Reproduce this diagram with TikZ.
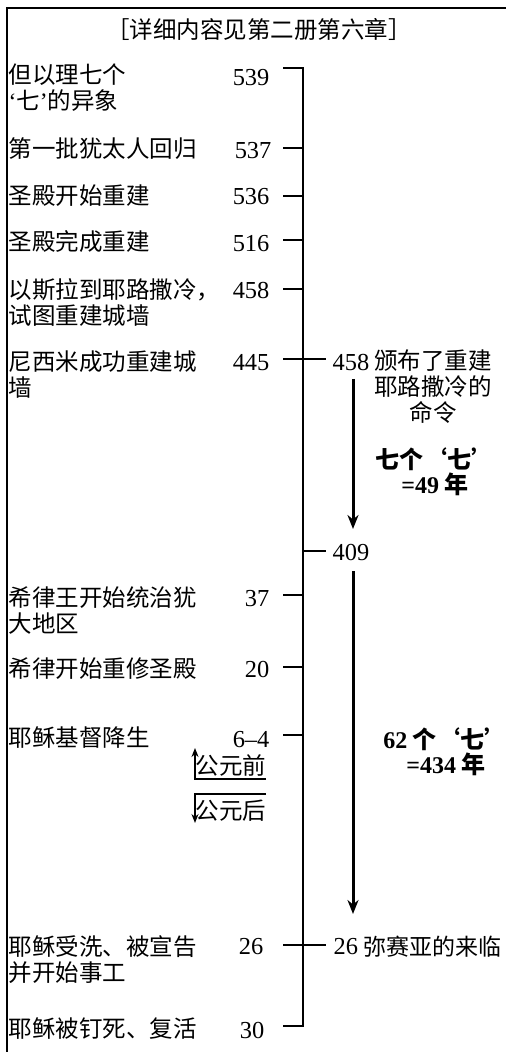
\documentclass[tikz,border=0pt]{standalone}
\usepackage{fontspec}
\setmainfont{Liberation Serif}
\newfontfamily\cjk{Noto Sans CJK SC}
\usetikzlibrary{arrows.meta}

\begin{document}
\begin{tikzpicture}[x=0.5pt,y=-0.5pt,line width=0.65pt,
    event/.style={font=\cjk\fontsize{11.75}{13}\selectfont,anchor=west,align=left,inner sep=0pt},
    year/.style={font=\fontsize{12.2}{13}\selectfont,anchor=east,inner sep=0pt},
    note/.style={font=\cjk\fontsize{11.75}{13}\selectfont,align=center,inner sep=0pt},
    span/.style={font=\cjk\bfseries\fontsize{12}{12.5}\selectfont,align=center,inner sep=0pt},
    period/.style={-{Stealth[length=7pt,width=5.5pt]},line width=1.5pt},
    era/.style={-{Stealth[length=4.5pt,width=3.5pt]},line width=1.2pt}]
    \useasboundingbox (0,0) rectangle (506,1052);
    \draw[line width=1pt] (7,1052) -- (7,8) -- (506,8);
    \node[note] (title) at (259,29) {［详细内容见第二册第六章］};

    \node[event] (e539) at (8,88) {但以理七个\\{\rmfamily‘}七{\rmfamily’}的异象};
    \node[event] (e537) at (8,149) {第一批犹太人回归};
    \node[event] (e536) at (8,196) {圣殿开始重建};
    \node[event] (e516) at (8,242) {圣殿完成重建};
    \node[event] (e458) at (8,303) {以斯拉到耶路撒冷，\\试图重建城墙};
    \node[event] (e445) at (8,375) {尼西米成功重建城\\墙};
    \node[event] (e37) at (8,610) {希律王开始统治犹\\大地区};
    \node[event] (e20) at (8,669) {希律开始重修圣殿};
    \node[event] (e6) at (8,738) {耶稣基督降生};
    \node[event] (e26) at (8,960) {耶稣受洗、被宣告\\并开始事工};
    \node[event] (e30) at (8,1029) {耶稣被钉死、复活};

    \node[year] (y539) at (270,78) {539};
    \node[year] (y537) at (272,151) {537};
    \node[year] (y536) at (270,197) {536};
    \node[year] (y516) at (270,244) {516};
    \node[year] (y458) at (270,291) {458};
    \node[year] (y445) at (270,363) {445};
    \node[year] (y37) at (270,599) {37};
    \node[year] (y20) at (270,670) {20};
    \node[year] (y6) at (270,740) {6–4};
    \node[year] (y26) at (264,947) {26};
    \node[year] (y30) at (265,1030) {30};

    \coordinate (top) at (303,68);
    \coordinate (bottom) at (303,1026);
    \draw (283,68) -- (top) -- (bottom) -- (283,1026);
    \foreach \y in {148,196,240,289,595,667,735}
        \draw (283,\y) -- (303,\y);
    \draw (283,359) -- (326,359);
    \draw (303,551) -- (326,551);
    \draw (283,945) -- (326,945);

    \node[year,anchor=west] (r458) at (332,363) {458};
    \node[note] (decree) at (433,387) {颁布了重建\\耶路撒冷的\\命令};
    \node[year,anchor=west] (r409) at (332,553) {409};
    \node[year,anchor=west] (r26) at (333,947) {26};
    \node[note,anchor=west,font=\cjk\fontsize{11.5}{13}\selectfont] (messiah) at (363,947) {弥赛亚的来临};

    \coordinate (a1) at (353,379);
    \coordinate (a1end) at (353,529);
    \coordinate (a2) at (353,571);
    \coordinate (a2end) at (353,914);
    \draw[period] (a1) -- (a1end);
    \draw[period] (a2) -- (a2end);
    \node[span] (seven) at (435,472) {七个‘七’\\{\rmfamily\bfseries =49} 年};
    \node[span] (sixtytwo) at (446,752) {{\rmfamily\bfseries 62} 个‘七’\\{\rmfamily\bfseries =434} 年};

    \node[note,anchor=east] (bce) at (267,765) {公元前};
    \node[note,anchor=east] (ce) at (267,811) {公元后};
    \coordinate (bceline) at (266,779);
    \coordinate (bcetip) at (195,748);
    \coordinate (celine) at (266,794);
    \coordinate (cetip) at (195,823);
    \draw[era] (bceline) -| (bcetip);
    \draw[era] (celine) -| (cetip);
\end{tikzpicture}
\end{document}
